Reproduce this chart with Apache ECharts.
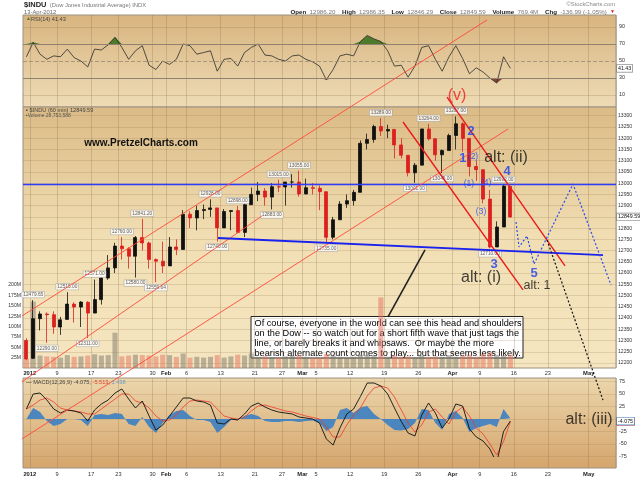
<!DOCTYPE html>
<html>
<head>
<meta charset="utf-8">
<title>$INDU 60 min</title>
<script src="https://cdn.jsdelivr.net/npm/echarts@6.0.0/dist/echarts.min.js"></script>
<style>
  html, body { margin: 0; padding: 0; background: #fff; }
  #chart { width: 640px; height: 479px; }
</style>
</head>
<body>
<div id="chart"></div>
<script>
// trading days on the x axis, the last 15 are the empty projection area
var days = ['12/30','1/3','1/4','1/5','1/6','1/9','1/10','1/11','1/12','1/13',
  '1/17','1/18','1/19','1/20','1/23','1/24','1/25','1/26','1/27','1/30',
  '1/31','2/1','2/2','2/3','2/6','2/7','2/8','2/9','2/10','2/13',
  '2/14','2/15','2/16','2/17','2/21','2/22','2/23','2/24','2/27','2/28',
  '2/29','3/1','3/2','3/5','3/6','3/7','3/8','3/9','3/12','3/13',
  '3/14','3/15','3/16','3/19','3/20','3/21','3/22','3/23','3/26','3/27',
  '3/28','3/29','3/30','4/2','4/3','4/4','4/5','4/9','4/10','4/11',
  '4/12','4/13',
  '4/16','4/17','4/18','4/19','4/20','4/23','4/24','4/25','4/26','4/27',
  '4/30','5/1','5/2','5/3','5/4'];

// date labels under the panels (index into days)
var tickIndex = [1, 5, 10, 14, 19, 21, 24, 29, 34, 38, 41, 43, 48, 53, 58, 63, 67, 72, 77, 83];
var tickText  = ['2012','9','17','23','30','Feb','6','13','21','27','Mar','5','12','19','26','Apr','9','16','23','May'];

// $INDU, one entry per trading day
var opens = [12300,12221,12397,12418,12415,12360,12394,12462,12449,12470,
  12422,12482,12578,12623,12720,12708,12675,12758,12734,12660,
  12653,12632,12716,12705,12862,12845,12878,12883,12890,12801,
  12874,12878,12781,12904,12950,12965,12938,12984,12983,13005,
  13005,12952,12980,12977,12962,12759,12837,12907,12922,12959,
  13177,13194,13252,13232,13239,13170,13124,13046,13080,13241,
  13197,13126,13145,13212,13264,13199,13074,13060,12929,12716,
  12805,12986.20];
var highs = [12310,12479.65,12430,12425,12430,12405,12515,12470,12475,12475,
  12571,12580,12680,12735,12760,12715,12765,12841.20,12740,12665,
  12740,12760,12750,12880,12875,12900,12905,12928,12890,12885,
  12880,12898,12910,12980,13005,12978,13000,13015,13005,13040,
  13055,13020,13000,12990,12962,12850,12920,12950,12970,13190,
  13220,13260,13289,13260,13240,13200,13124,13090,13241,13264,
  13200,13150,13220,13297,13270,13199,13100,13060,12970,12830,
  12992,12986.35];
var lows = [12215,12218,12345,12290,12330,12325,12394,12380,12360,12311,
  12422,12460,12570,12600,12660,12620,12580,12700,12620,12559.64,
  12600,12632,12680,12705,12800,12790,12840,12850,12740,12801,
  12790,12781,12760,12904,12920,12900,12883,12960,12900,12980,
  12940,12950,12950,12880,12735,12750,12837,12890,12900,12959,
  13150,13180,13210,13200,13110,13110,13030,13001,13080,13190,
  13100,13045,13145,13150,13140,13030,13010,12910,12710,12716,
  12805,12846.29];
var closes = [12218,12397,12418,12415,12360,12392,12462,12449,12471,12422,
  12482,12578,12623,12720,12708,12675,12758,12734,12660,12653,
  12632,12716,12705,12862,12845,12878,12883,12890,12801,12874,
  12878,12781,12904,12950,12965,12938,12984,12983,13005,13005,
  12952,12980,12977,12962,12759,12837,12907,12922,12959,13177,
  13194,13252,13232,13239,13170,13124,13046,13080,13241,13197,
  13126,13145,13212,13264,13199,13074,13060,12929,12716,12805,
  12987,12849.59];
// volume, millions
var volumes = [22,160,30,28,27,25,31,27,28,30,
  33,30,31,85,28,30,32,31,30,28,
  32,31,27,35,25,27,25,27,31,25,
  28,32,30,35,27,28,25,25,28,30,
  31,27,24,25,34,30,27,25,27,32,
  31,30,170,27,30,27,28,25,30,27,
  28,27,31,27,30,32,27,34,37,32,
  31,32];

var rsi = [55,72,58,52,56,55,64,54,50,43,
  64,63,69,78,66,52,62,68,45,40,
  50,46,52,70,68,58,60,62,38,52,
  53,44,60,66,70,57,56,52,50,56,
  57,52,49,44,28,40,56,58,56,73,
  80,76,73,62,44,45,31,44,66,68,
  52,38,55,68,53,35,42,37,30,24,
  55,41.43];
var macd = [20,50,52,38,20,12,18,16,12,-4,
  18,30,38,52,60,40,22,36,6,-22,
  -12,6,24,42,42,36,34,28,-8,-10,
  0,-2,10,26,32,24,18,14,12,10,
  4,2,0,-8,-40,-52,-18,10,20,45,
  72,72,66,50,22,-5,-28,-34,8,32,
  12,-18,0,30,26,-20,-36,-44,-60,-88,
  -25,-4.075];
var signal = [20,28,38,42,34,22,18,16,14,10,
  10,20,30,40,50,50,36,32,22,6,
  -4,-2,8,24,36,38,36,34,20,6,
  2,0,4,16,26,28,24,20,16,14,
  10,6,3,0,-16,-36,-36,-12,8,22,
  46,62,66,62,44,18,-8,-26,-12,14,
  20,4,-10,14,24,6,-18,-30,-50,-72,
  -45,-5.513];

var rsiLevels = [10, 30, 50, 70, 90];

// days that carry a price tag
var swingHighs = [1, 6, 10, 14, 17, 27, 31, 37, 40, 52, 59, 63, 70];
var swingLows  = [3, 9, 16, 19, 28, 36, 44, 57, 61, 68];

// hand drawn lines, [day, price]
var upperChannel = [[-3.87, 12347], [67.58, 13726]];
var midChannel   = [[-3.87, 12049], [34.56, 12854]];
var lowerChannel = [[-3.87, 11800], [70.66, 13241]];
var downLower    = [[55.25, 13272], [72.86, 12525]];
var downUpper    = [[61.71, 13383], [79.02, 12632]];
var neckline     = [[28.11, 12756], [84.59, 12680]];
var bluePath     = [[71.83, 12827], [72.27, 12716], [73.44, 12765], [74.47, 12640], [80.19, 12996], [85.77, 12547]];
var blackPath    = [[76.38, 12747], [84.59, 12035]];
var pointer      = [[53.05, 12405], [58.48, 12703]];
var resistance   = 12995;

// wave count: day, price, text, colour, size, weight
var waveLabels = [
  [63.17, 13388, '(v)', '#f01818', 16, 'normal'],
  [65.23, 13228, '2', '#1d3ff0', 13, 'bold'],
  [64.05, 13112, '1', '#1d3ff0', 13, 'bold'],
  [65.52, 13116, '(2)', '#1d3ff0', 8.5, 'normal'],
  [64.93, 12996, '(1)', '#1d3ff0', 8.5, 'normal'],
  [67.43, 13001, '(4)', '#1d3ff0', 8.5, 'normal'],
  [66.70, 12872, '(3)', '#1d3ff0', 8.5, 'normal'],
  [70.51, 13054, '4', '#1d3ff0', 13, 'bold'],
  [68.60, 12640, '3', '#1d3ff0', 13, 'bold'],
  [74.47, 12600, '5', '#1d3ff0', 13, 'bold'],
  [70.36, 13112, 'alt: (ii)', '#111', 16, 'normal'],
  [66.70, 12578, 'alt: (i)', '#111', 16, 'normal'],
  [74.91, 12543, 'alt: 1', '#111', 12.5, 'normal'],
  [82.54, 11947, 'alt: (iii)', '#111', 16, 'normal']
];

var noteLines = [
  'Of course, everyone in the world can see this head and shoulders',
  'on the Dow -- so watch out for a short fifth wave that just tags the',
  'line, or barely breaks it and whipsaws.  Or maybe the more',
  'bearish alternate count comes to play... but that seems less likely.'
];

var FONT = 'Liberation Sans';
var GL = 23, GR = 24;
var lastClose = closes[closes.length - 1];

var tickMap = {};
tickIndex.forEach(function(d, i) { tickMap[d] = tickText[i]; });

function grad(stops) {
  return new echarts.graphic.LinearGradient(0, 0, 0, 1, stops.map(function(c, i) {
    return { offset: i / (stops.length - 1), color: c };
  }));
}

var vline = { color: 'rgba(140,110,70,0.28)', width: 1 };

function frameX(grid, labels) {
  return {
    type: 'category', gridIndex: grid, data: days, boundaryGap: true,
    axisLine: { show: false }, axisTick: { show: false },
    splitLine: { show: true, interval: function(i) { return tickMap[i] !== undefined; }, lineStyle: vline },
    axisLabel: labels ? {
      show: true, interval: function(i) { return tickMap[i] !== undefined; },
      margin: labels, padding: [0, 6.8, 0, 0],
      formatter: function(v, i) {
        var t = tickMap[i];
        return /^[A-Z]|2012/.test(t) ? '{b|' + t + '}' : '{n|' + t + '}';
      },
      rich: {
        b: { fontFamily: FONT, fontSize: 5.8, fontWeight: 'bold', color: '#222' },
        n: { fontFamily: FONT, fontSize: 5.6, color: '#333' }
      }
    } : { show: false }
  };
}
function hiddenX(grid) {
  return { type: 'category', gridIndex: grid, data: days, boundaryGap: true, show: false };
}
function dummyY(grid) {
  return { type: 'value', gridIndex: grid, show: false, splitLine: { show: false } };
}
var axisFont = { fontFamily: FONT, fontSize: 5.4, color: '#333' };

function drawn(pts, color, width, dash) {
  return {
    type: 'line', xAxisIndex: 4, yAxisIndex: 3, data: pts, clip: false,
    symbol: 'none', silent: true, z: 6,
    lineStyle: { color: color, width: width, type: dash || 'solid' }
  };
}

function valueBox(v, text, border, color) {
  return {
    yAxis: v, lineStyle: { color: 'rgba(0,0,0,0)', width: 0.1 },
    label: {
      show: true, position: 'end', distance: 1, formatter: text,
      fontFamily: FONT, fontSize: 5.3, color: color || '#111',
      backgroundColor: '#fff', borderColor: border, borderWidth: 0.6, padding: [1, 1]
    }
  };
}

var chart = echarts.init(document.getElementById('chart'));

var option = {
  animation: false,
  backgroundColor: '#fff',
  textStyle: { fontFamily: FONT },
  grid: [
    { left: GL, right: GR, top: 15, height: 92, show: true, borderColor: '#9c9182', borderWidth: 1,
      backgroundColor: grad(['#d8b47f', '#eedcb6']) },
    { left: GL, right: GR, top: 10, height: 102 },
    { left: GL, right: GR, top: 107, height: 261, show: true, borderColor: '#9c9182', borderWidth: 1,
      backgroundColor: grad(['#dbbb86', '#f1deb3', '#f5e6c1']) },
    { left: GL, right: GR, top: 115.7, height: 247.3 },
    { left: GL, right: GR, top: 285, height: 83 },
    { left: GL, right: GR, top: 378, height: 90, show: true, borderColor: '#9c9182', borderWidth: 1,
      backgroundColor: grad(['#ecd6ac', '#d5a56c']) },
    { left: GL, right: GR, top: 381.5, height: 75 }
  ],
  xAxis: [
    frameX(0, 0),
    hiddenX(1),
    frameX(2, 2.5),
    hiddenX(3),
    { type: 'value', gridIndex: 3, position: 'top', min: -0.5, max: days.length - 0.5, show: false },
    hiddenX(4),
    frameX(5, 3),
    hiddenX(6)
  ],
  yAxis: [
    dummyY(0),
    { type: 'value', gridIndex: 1, position: 'right', min: -10, max: 110, interval: 20,
      axisLine: { show: false }, axisTick: { show: false }, splitLine: { show: false },
      axisLabel: Object.assign({ margin: 3, formatter: function(v) { return v < 0 || v > 100 ? '' : String(v); } }, axisFont) },
    dummyY(2),
    { type: 'value', gridIndex: 3, position: 'right', min: 12200, max: 13300, interval: 50,
      axisLine: { show: false }, axisTick: { show: false },
      splitLine: { show: true, lineStyle: { color: 'rgba(140,110,70,0.2)', width: 1 } },
      axisLabel: Object.assign({ margin: 2, formatter: function(v) { return String(v); } }, axisFont, { fontSize: 5.1 }) },
    { type: 'value', gridIndex: 4, position: 'left', min: 0, max: 200, interval: 25,
      axisLine: { show: false }, axisTick: { show: false }, splitLine: { show: false },
      axisLabel: Object.assign({ margin: 2, formatter: function(v) { return v ? v + 'M' : ''; } }, axisFont, { fontSize: 5.1 }) },
    dummyY(5),
    { type: 'value', gridIndex: 6, position: 'right', min: -75, max: 75, interval: 25,
      axisLine: { show: false }, axisTick: { show: false },
      splitLine: { show: true, lineStyle: { color: 'rgba(140,110,70,0.18)', width: 1 } },
      axisLabel: Object.assign({ margin: 3, formatter: function(v) { return v === 0 ? '' : String(v); } }, axisFont) }
  ],
  series: [
    // RSI panel
    { type: 'line', xAxisIndex: 1, yAxisIndex: 1, symbol: 'none', silent: true,
      data: rsi.map(function(v) { return Math.max(v, 70); }),
      lineStyle: { width: 0 }, areaStyle: { origin: 70, color: '#4f7a2c', opacity: 1 } },
    { type: 'line', xAxisIndex: 1, yAxisIndex: 1, symbol: 'none', silent: true,
      data: rsi.map(function(v) { return Math.min(v, 30); }),
      lineStyle: { width: 0 }, areaStyle: { origin: 30, color: '#8c4631', opacity: 1 } },
    { type: 'line', xAxisIndex: 1, yAxisIndex: 1, symbol: 'none', silent: true, data: rsi,
      lineStyle: { color: '#2a2a2a', width: 0.8 },
      markLine: {
        silent: true, symbol: ['none', 'none'], label: { show: false },
        data: rsiLevels.map(function(v) {
          var st = (v === 30 || v === 70) ? { color: '#8f8270', width: 1, type: 'solid' }
            : v === 50 ? { color: '#9a8a72', width: 0.8, type: [4, 2] }
            : { color: 'rgba(140,110,70,0.3)', width: 0.8, type: 'solid' };
          return { yAxis: v, lineStyle: st };
        }).concat([valueBox(rsi[rsi.length - 1], String(rsi[rsi.length - 1]), '#777')])
      } },

    // volume
    { type: 'bar', xAxisIndex: 5, yAxisIndex: 4, silent: true, barWidth: '75%',
      data: volumes.map(function(v, i) {
        return { value: v, itemStyle: { color: closes[i] >= opens[i] ? 'rgba(125,120,105,0.5)' : 'rgba(228,112,92,0.5)' } };
      }) },

    // price
    { type: 'candlestick', xAxisIndex: 3, yAxisIndex: 3, silent: true, barWidth: 3.5,
      data: opens.map(function(o, i) { return [o, closes[i], lows[i], highs[i]]; }),
      itemStyle: { color: '#111', color0: '#dc2020', borderColor: '#111', borderColor0: '#dc2020', borderWidth: 0.8 },
      markLine: {
        silent: true, symbol: ['none', 'none'], label: { show: false },
        data: [
          { yAxis: resistance, lineStyle: { color: '#2f3cff', width: 1.3, type: 'solid' } },
          valueBox(lastClose, lastClose.toFixed(2), '#777')
        ]
      } },
    { type: 'scatter', xAxisIndex: 3, yAxisIndex: 3, silent: true, symbolSize: 1, z: 4,
      itemStyle: { color: 'rgba(0,0,0,0)' },
      data: swingHighs.map(function(d) { return [d, highs[d]]; }),
      label: { show: true, position: 'top', distance: 2, formatter: function(p) { return p.value[1].toFixed(2); },
        fontFamily: FONT, fontSize: 4.8, color: '#333', backgroundColor: '#fff',
        borderColor: '#999', borderWidth: 0.5, padding: [0.5, 1.2] } },
    { type: 'scatter', xAxisIndex: 3, yAxisIndex: 3, silent: true, symbolSize: 1, z: 4,
      itemStyle: { color: 'rgba(0,0,0,0)' },
      data: swingLows.map(function(d) { return [d, lows[d]]; }),
      label: { show: true, position: 'bottom', distance: 2, formatter: function(p) { return p.value[1].toFixed(2); },
        fontFamily: FONT, fontSize: 4.8, color: '#333', backgroundColor: '#fff',
        borderColor: '#999', borderWidth: 0.5, padding: [0.5, 1.2] } },

    // MACD panel
    { type: 'line', xAxisIndex: 7, yAxisIndex: 6, symbol: 'none', silent: true,
      data: macd.map(function(v, i) { return +(v - signal[i]).toFixed(3); }),
      lineStyle: { width: 0 }, areaStyle: { color: '#3b80c3', opacity: 0.9 } },
    { type: 'line', xAxisIndex: 7, yAxisIndex: 6, symbol: 'none', silent: true, data: signal,
      lineStyle: { color: '#ee3a2a', width: 0.8 } },
    { type: 'line', xAxisIndex: 7, yAxisIndex: 6, symbol: 'none', silent: true, data: macd,
      lineStyle: { color: '#111', width: 0.9 },
      markLine: {
        silent: true, symbol: ['none', 'none'], label: { show: false },
        data: [
          valueBox(signal[signal.length - 1], String(signal[signal.length - 1]), '#e04030', '#d02a20'),
          valueBox(macd[macd.length - 1], String(macd[macd.length - 1]), '#3b80c3')
        ]
      } },

    // drawn lines
    drawn(upperChannel, '#ff4a3a', 0.9),
    drawn(midChannel, '#ff4a3a', 0.9),
    drawn(lowerChannel, '#ff4a3a', 0.9),
    drawn(downLower, '#ec1a1a', 1.4),
    drawn(downUpper, '#ec1a1a', 1.4),
    drawn(neckline, '#1a22ee', 1.8),
    drawn(bluePath, '#2a4cf0', 1.2, [2, 2]),
    drawn(blackPath, '#111', 1.2, [2, 2]),
    drawn(pointer, '#222', 1.6),

    // wave count
    { type: 'scatter', xAxisIndex: 4, yAxisIndex: 3, clip: false, silent: true, symbolSize: 1, z: 7,
      itemStyle: { color: 'rgba(0,0,0,0)' },
      data: waveLabels.map(function(w) {
        return { value: [w[0], w[1]], label: { show: true, position: 'inside', formatter: w[2],
          color: w[3], fontSize: w[4], fontWeight: w[5], fontFamily: FONT } };
      }) }
  ],
  graphic: [
    { type: 'text', x: 24, y: 5, z: 100, style: {
      text: '{b|$INDU} {n|(Dow Jones Industrial Average) INDX}', verticalAlign: 'middle',
      rich: { b: { fontFamily: FONT, fontSize: 7.5, fontWeight: 'bold', fill: '#222' },
              n: { fontFamily: FONT, fontSize: 5.8, fill: '#777' } } } },
    { type: 'text', x: 24, y: 12, z: 100, style: {
      text: '13-Apr-2012', verticalAlign: 'middle', fontFamily: FONT, fontSize: 5.8, fill: '#666' } },
    { type: 'text', x: 615, y: 4.5, z: 100, style: {
      text: '\u00a9StockCharts.com', align: 'right', verticalAlign: 'middle', fontFamily: FONT, fontSize: 5.8, fill: '#888' } },
    { type: 'text', x: 615, y: 12, z: 100, style: {
      text: '{l|Open} {v|12986.20}  {l|High} {v|12986.35}  {l|Low} {v|12846.29}  {l|Close} {v|12849.59}  {l|Volume} {v|769.4M}  {l|Chg} {v|-136.99 (-1.05%)} {r|\u25bc}',
      align: 'right', verticalAlign: 'middle',
      rich: { l: { fontFamily: FONT, fontSize: 6.2, fontWeight: 'bold', fill: '#222' },
              v: { fontFamily: FONT, fontSize: 6.2, fill: '#777' },
              r: { fontFamily: FONT, fontSize: 5, fill: '#d02020' } } } },
    { type: 'text', x: 26, y: 19, z: 100, style: {
      text: '{g|\u25b2}RSI(14) 41.43', verticalAlign: 'middle',
      rich: { g: { fontFamily: FONT, fontSize: 5, fill: '#4f7a2c' } },
      fontFamily: FONT, fontSize: 5.6, fill: '#444' } },
    { type: 'text', x: 26, y: 110.5, z: 100, style: {
      text: '\u25aa $INDU (60 min) 12849.59', verticalAlign: 'middle', fontFamily: FONT, fontSize: 5.6, fill: '#444' } },
    { type: 'text', x: 26, y: 116, z: 100, style: {
      text: '\u25aaVolume 28,753,588', verticalAlign: 'middle', fontFamily: FONT, fontSize: 5, fill: '#555' } },
    { type: 'text', x: 26, y: 382, z: 100, style: {
      text: '{k|\u2014} MACD(12,26,9) -4.075, {r|-5.513}, {b|1.438}', verticalAlign: 'middle',
      fontFamily: FONT, fontSize: 5.6, fill: '#444',
      rich: { k: { fontFamily: FONT, fontSize: 5.6, fill: '#111' },
              r: { fontFamily: FONT, fontSize: 5.6, fill: '#e04030' },
              b: { fontFamily: FONT, fontSize: 5.6, fill: '#6a9ac8' } } } },
    { type: 'text', x: 141, y: 143, z: 100, style: {
      text: 'www.PretzelCharts.com', align: 'center', verticalAlign: 'middle',
      fontFamily: FONT, fontSize: 10, fontWeight: 'bold', fill: '#111' } },
    { type: 'group', z: 100, children: [
      { type: 'rect', shape: { x: 251, y: 316.5, width: 272, height: 41.5 },
        style: { fill: '#fff', stroke: '#222', lineWidth: 1 } },
      { type: 'text', x: 254.5, y: 318, style: {
        text: noteLines.join('\n'), fontFamily: FONT, fontSize: 9.2, lineHeight: 10.2, fill: '#000' } }
    ] }
  ]
};

chart.setOption(option);
</script>
</body>
</html>
